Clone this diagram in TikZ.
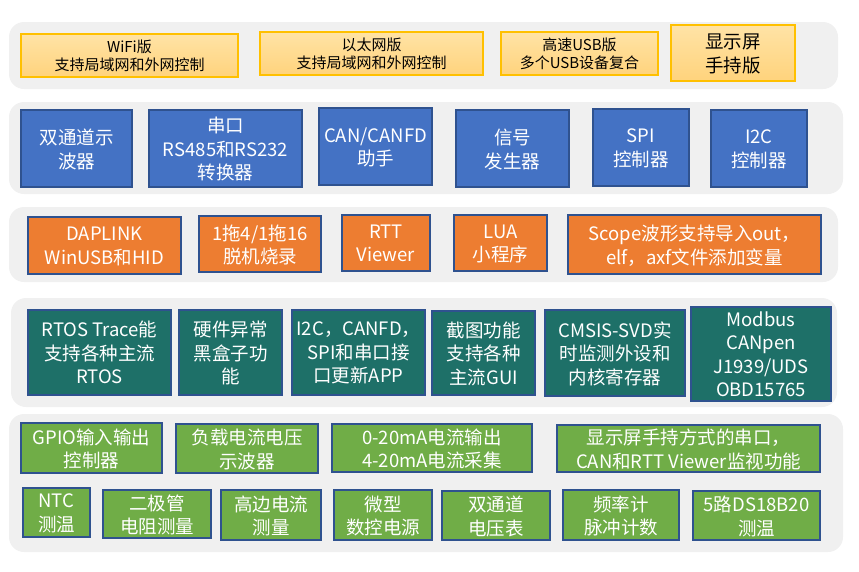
\documentclass[tikz,border=0pt]{standalone}
\usepackage{fontspec}
\setmainfont{Noto Sans CJK SC}
\usetikzlibrary{positioning}

\definecolor{panelgray}{HTML}{F0F0F0}
\definecolor{edgeblue}{HTML}{2F528F}
\definecolor{cardblue}{HTML}{4472C4}
\definecolor{cardorange}{HTML}{ED7D31}
\definecolor{cardteal}{HTML}{1E7068}
\definecolor{cardgreen}{HTML}{70AD47}
\definecolor{goldedge}{HTML}{FFC000}
\definecolor{goldtop}{HTML}{FFE3A6}
\definecolor{goldbot}{HTML}{FFD37C}

\newcommand{\bigtxt}{\fontsize{18.5}{23.5}\selectfont}
\newcommand{\smalltxt}{\fontsize{15}{18}\selectfont}

\begin{document}
\begin{tikzpicture}[
		x=1pt,y=-1pt,
		every node/.style={align=center, inner sep=0pt, text depth=-1pt},
		panel/.style={fill=panelgray, rounded corners=15pt},
		ybox/.style={draw=goldedge, line width=1.2pt, top color=goldtop, bottom color=goldbot, font=\smalltxt},
		card/.style={draw=edgeblue, line width=1.3pt, text=white, font=\bigtxt},
		bbox/.style={card, fill=cardblue},
		obox/.style={card, fill=cardorange},
		tbox/.style={card, fill=cardteal},
		gbox/.style={card, fill=cardgreen}
		]
		\useasboundingbox (0,0) rectangle (859,571);
		
		% =========================
		% grey panels
		% =========================
		\fill[panel] (9,22) rectangle (838,89);
		\fill[panel] (9,102) rectangle (843,194);
		\fill[panel] (9,207) rectangle (838,282);
		\fill[panel] (11,298) rectangle (837,407);
		\fill[panel] (9,414) rectangle (843,552);
		
		% =========================
		% Row 1: versions
		% =========================
		\node[ybox, minimum width=217pt, minimum height=43pt] (wifi) at (129.5,55.5) {WiFi版\\支持局域网和外网控制};
		\node[ybox, minimum width=223pt, minimum height=43pt] (eth) at (371.5,53.5) {以太网版\\支持局域网和外网控制};
		\node[ybox, minimum width=157pt, minimum height=43pt] (usb) at (579.5,53.5) {高速USB版\\多个USB设备复合};
		\node[ybox, font=\bigtxt, minimum width=124pt, minimum height=56pt] (hand) at (733,53) {显示屏\\手持版};
		
		% =========================
		% Row 2: tools
		% =========================
		\node[bbox, minimum width=111pt, minimum height=77pt] (osc) at (76.5,148.5) {双通道示\\波器};
		\node[bbox, minimum width=153pt, minimum height=77pt] (uart) at (225.5,148.5) {串口\\RS485和RS232\\转换器};
		\node[bbox, minimum width=113pt, minimum height=77pt] (can) at (375.5,146.5) {CAN/CANFD\\助手};
		\node[bbox, minimum width=113pt, minimum height=77pt] (sig) at (512.5,148.5) {信号\\发生器};
		\node[bbox, minimum width=96pt, minimum height=77pt] (spi) at (641,147.5) {SPI\\控制器};
		\node[bbox, minimum width=96pt, minimum height=77pt] (iic) at (759,148.5) {I2C\\控制器};
		
		% =========================
		% Row 3: download and debug
		% =========================
		\node[obox, minimum width=153pt, minimum height=57pt] (dap) at (104.5,245.5) {DAPLINK\\WinUSB和HID};
		\node[obox, minimum width=122pt, minimum height=56pt] (prog) at (260,244) {1拖4/1拖16\\脱机烧录};
		\node[obox, minimum width=88pt, minimum height=56pt] (rtt) at (386,243) {RTT\\Viewer};
		\node[obox, minimum width=93pt, minimum height=56pt] (lua) at (500.5,243) {LUA\\小程序};
		\node[obox, minimum width=253pt, minimum height=59pt] (wave) at (694.5,244.5) {Scope波形支持导入out，\\elf，axf文件添加变量};
		
		% =========================
		% Row 4: analysis
		% =========================
		\node[tbox, minimum width=143pt, minimum height=85pt] (rtos) at (99.5,352.5) {RTOS Trace能\\支持各种主流\\RTOS};
		\node[tbox, minimum width=103pt, minimum height=85pt] (fault) at (230.5,352.5) {硬件异常\\黑盒子功\\能};
		\node[tbox, minimum width=133pt, minimum height=85pt] (upd) at (358.5,352.5) {I2C，CANFD，\\SPI和串口接\\口更新APP};
		\node[tbox, minimum width=103pt, minimum height=84pt] (gui) at (483.5,353) {截图功能\\支持各种\\主流GUI};
		\node[tbox, minimum width=140pt, minimum height=86pt] (svd) at (615,353) {CMSIS-SVD实\\时监测外设和\\内核寄存器};
		\node[tbox, minimum width=140pt, minimum height=94pt] (bus) at (761,354) {Modbus\\CANpen\\J1939/UDS\\OBD15765};
		
		% =========================
		% Row 5: measurement
		% =========================
		\node[gbox, minimum width=141pt, minimum height=50pt] (gpio) at (91.5,448) {GPIO输入输出\\控制器};
		\node[gbox, minimum width=142pt, minimum height=49pt] (load) at (247,448.5) {负载电流电压\\示波器};
		\node[gbox, minimum width=200pt, minimum height=48pt] (loop) at (432,448) {0-20mA电流输出\\4-20mA电流采集};
		\node[gbox, minimum width=263pt, minimum height=47pt] (mon) at (688.5,448.5) {显示屏手持方式的串口，\\CAN和RTT Viewer监视功能};
		
		\node[gbox, minimum width=67pt, minimum height=49pt] (ntc) at (56.5,512.5) {NTC\\测温};
		\node[gbox, minimum width=108pt, minimum height=48pt] (diode) at (157,514) {二极管\\电阻测量};
		\node[gbox, minimum width=100pt, minimum height=50pt] (hside) at (271,515) {高边电流\\测量};
		\node[gbox, minimum width=98pt, minimum height=50pt] (psu) at (383,515) {微型\\数控电源};
		\node[gbox, minimum width=108pt, minimum height=49pt] (volt) at (496,515.5) {双通道\\电压表};
		\node[gbox, minimum width=116pt, minimum height=50pt] (freq) at (621,515) {频率计\\脉冲计数};
		\node[gbox, minimum width=127pt, minimum height=49pt] (temp) at (756.5,515.5) {5路DS18B20\\测温};
		
	\end{tikzpicture}
\end{document}
